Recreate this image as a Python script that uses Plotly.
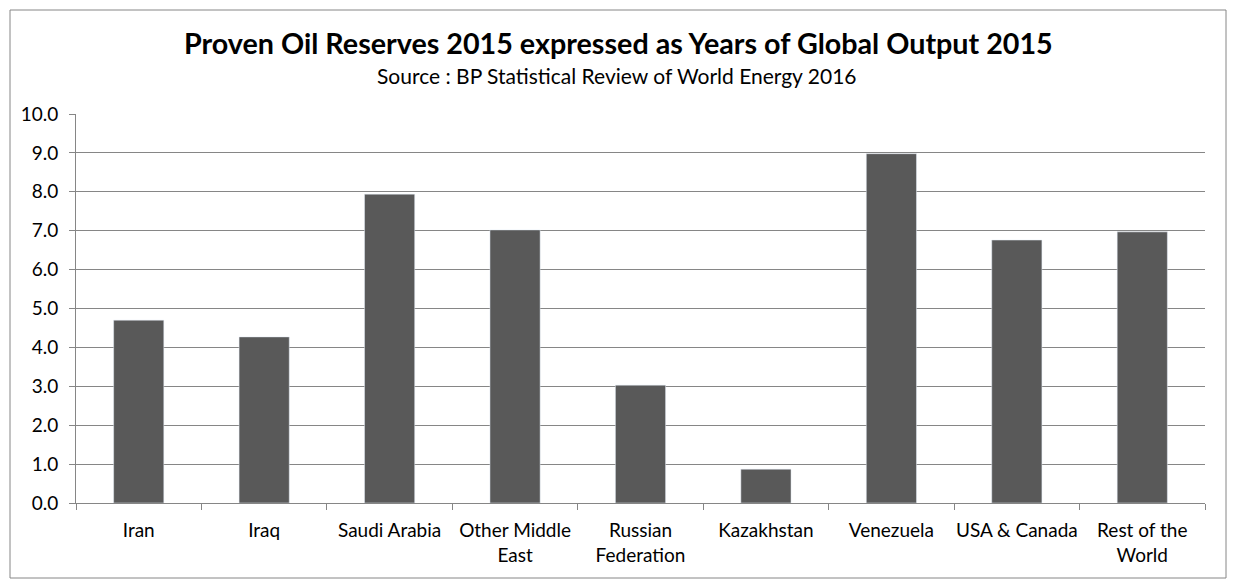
import plotly.graph_objects as go

categories = ["Iran", "Iraq", "Saudi Arabia", "Other Middle<br>East", "Russian<br>Federation",
              "Kazakhstan", "Venezuela", "USA & Canada", "Rest of the<br>World"]
years = [4.70, 4.27, 7.94, 7.02, 3.03, 0.87, 8.98, 6.76, 6.97]
y_ticks = [0, 1, 2, 3, 4, 5, 6, 7, 8, 9, 10]
title_text = "Proven Oil Reserves 2015 expressed as Years of Global Output 2015"
subtitle_text = "Source : BP Statistical Review of World Energy 2016"

OFF = 8  # page body offset
W, H = 1238 - OFF, 588 - OFF
L, T = 76 - OFF, 114 - OFF
R = 1238 - 1205
B = 588 - 503
pw, ph = W - L - R, H - T - B

def px_x(px):
    return (px - OFF - L) / pw

def px_y(py):
    return (H - B - (py - OFF)) / ph

FONT = "Lato"

fig = go.Figure(go.Bar(x=categories, y=years, marker_color="#595959", width=0.4))

fig.update_layout(
    width=W, height=H,
    margin=dict(l=L, r=R, t=T, b=B),
    paper_bgcolor="white", plot_bgcolor="white",
    showlegend=False,
    font=dict(family=FONT, size=19, color="black"),
    shapes=[dict(type="rect", xref="paper", yref="paper",
                 x0=px_x(10), x1=px_x(1226), y0=px_y(578), y1=px_y(10),
                 line=dict(color="#868686", width=1), layer="below")],
    annotations=[
        dict(text="<b>" + title_text + "</b>", xref="paper", yref="paper",
             x=px_x(618), y=px_y(43), showarrow=False, xanchor="center", yanchor="middle",
             font=dict(family=FONT, size=28.7, color="black")),
        dict(text=subtitle_text, xref="paper", yref="paper",
             x=px_x(617), y=px_y(76), showarrow=False, xanchor="center", yanchor="middle",
             font=dict(family=FONT, size=21, color="black")),
    ],
)
fig.update_xaxes(type="category", showline=True, linecolor="#868686", linewidth=1,
                 ticks="outside", tickson="boundaries", ticklen=6, tickcolor="#868686",
                 showgrid=False, tickfont=dict(family=FONT, size=19), ticklabelstandoff=10,
                 tickangle=0, automargin=False)
fig.update_yaxes(range=[0, 10], tickvals=y_ticks, ticktext=[f"{v:.1f}" for v in y_ticks],
                 showline=True, linecolor="#868686", linewidth=1,
                 ticks="outside", ticklen=6, tickcolor="#868686",
                 showgrid=True, gridcolor="#868686", gridwidth=1, zeroline=False,
                 tickfont=dict(family=FONT, size=19), ticklabelstandoff=7, automargin=False)

fig.write_html("out.html")
